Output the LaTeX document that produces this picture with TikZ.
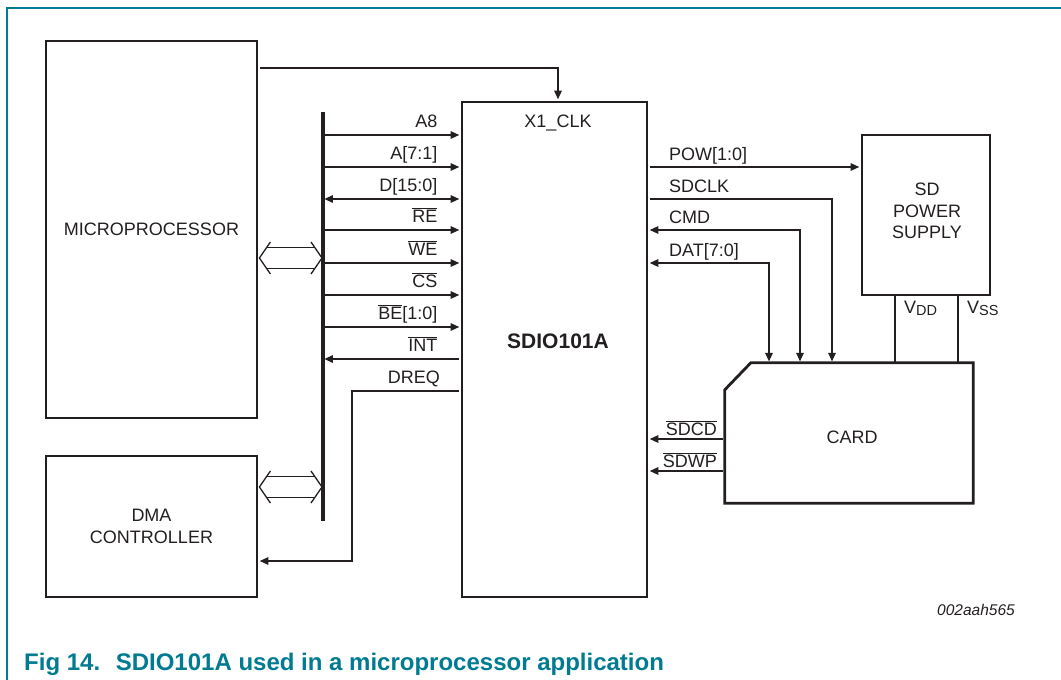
\documentclass[tikz,border=0pt]{standalone}
\usepackage{fontspec}
\setmainfont{Liberation Sans}
\usetikzlibrary{arrows.meta,calc,positioning}
\definecolor{ink}{HTML}{231F20}
\definecolor{figteal}{HTML}{007B91}
\tikzset{
box/.style={draw=ink,line width=2.8pt,inner sep=0pt,align=center,text=ink},
sig/.style={draw=ink,line width=1.3pt,shorten >=1.4pt,shorten <=1.4pt,>={Triangle[length=8.5pt,width=7.5pt]}},
lab/.style={inner sep=0pt,text=ink,align=center}
}
\newcommand{\nbar}[1]{$\overline{\mbox{#1}}$}
\newcommand{\rail}[1]{V\raisebox{-0.3ex}{\fontsize{14.5}{16}\selectfont #1}}

\begin{document}
\begin{tikzpicture}[x=1pt,y=-1pt,font=\fontsize{18}{21.5}\selectfont]
	\useasboundingbox (0,0) rectangle (1061,680);
	% frame
	\draw[figteal,line width=1.5pt] (1061,8) -- (7,8) -- (7,680);

	% blocks
	\node[box,minimum width=211pt,minimum height=377pt] (mpu) at (151.5,229.5) {MICROPROCESSOR};
	\node[box,minimum width=211pt,minimum height=141pt] (dma) at (151.5,526.5) {DMA\\CONTROLLER};
	\node[box,minimum width=185pt,minimum height=495pt] (sdio) at (554.5,349.5) {};
	\node[lab,font=\fontsize{21}{24}\bfseries] (chip) at (558,341) {SDIO101A};
	\node[box,minimum width=128pt,minimum height=160pt] (psu) at (926,215) {};
	\node[lab] at (927,211) {SD\\POWER\\SUPPLY};
	\node[lab,minimum width=248pt,minimum height=140pt] (card) at (849,433) {};
	\node[lab] at (852,437) {CARD};
	\draw[box] (card.south west) -- ($(card.north west)+(0,27)$) -- ($(card.north west)+(26,0)$)
		-- (card.north east) -- (card.south east) -- cycle;

	% bus
	\coordinate (bustop) at (323,112);
	\coordinate (busbot) at (323,521);
	\draw[ink,line width=4pt] (bustop) -- (busbot);
	\foreach \n/\y in {mpu/258,dma/487}{
		\coordinate (l) at ($(\n.east |- 0,\y)+(1,0)$);
		\coordinate (r) at ($(bustop |- 0,\y)+(-1,0)$);
		\draw[ink,line width=1.3pt] ($(l)+(11,-16)$) -- (l) -- ($(l)+(11,16)$);
		\draw[ink,line width=1.3pt] ($(r)+(-11,-16)$) -- (r) -- ($(r)+(-11,16)$);
		\draw[ink,line width=1.3pt] ($(l)+(7.2,-10.5)$) -- ($(r)+(-7.2,-10.5)$);
		\draw[ink,line width=1.3pt] ($(l)+(7.2,10.5)$) -- ($(r)+(-7.2,10.5)$);
	}

	% processor side signals
	\foreach \y/\lab/\tip in {135/{A8}/->,167/{A[7:1]}/->,199/{D[15:0]}/<->,230/{\nbar{RE}}/->,
		263/{\nbar{WE}}/->,295/{\nbar{CS}}/->,327/{\nbar{BE}[1:0]}/->,359/{\nbar{INT}}/<-}{
		\draw[sig,\tip] (bustop |- 0,\y) -- (sdio.west |- 0,\y);
		\node[lab,anchor=base east] at ($(sdio.west |- 0,\y)+(-23,-8)$) {\lab};
	}
	\draw[sig,->] (sdio.west |- 0,391) -- (352,391) |- (dma.east |- 0,561);
	\node[lab,anchor=base east] at (440,383) {DREQ};
	\draw[sig,->] (mpu.east |- 0,68) -| (sdio.north -| 558,0);
	\node[lab,anchor=base] at (558,127) {X1\_CLK};

	% card side signals
	\draw[sig,->] (sdio.east |- 0,167) -- (psu.west |- 0,167);
	\node[lab,anchor=base west] at (669,160) {POW[1:0]};
	\draw[sig,->] (sdio.east |- 0,199) -| (card.north -| 832,0);
	\node[lab,anchor=base west] at (669,192) {SDCLK};
	\draw[sig,<->] (sdio.east |- 0,230) -| (card.north -| 800,0);
	\node[lab,anchor=base west] at (669,223) {CMD};
	\draw[sig,<->] (sdio.east |- 0,263) -| (card.north -| 769,0);
	\node[lab,anchor=base west] at (669,256) {DAT[7:0]};
	\draw[sig,<-] (sdio.east |- 0,439) -- (card.west |- 0,439);
	\node[lab,anchor=base east] at (717,435) {\nbar{SDCD}};
	\draw[sig,<-] (sdio.east |- 0,471) -- (card.west |- 0,471);
	\node[lab,anchor=base east] at (717,467) {\nbar{SDWP}};

	% supply rails
	\draw[sig,shorten >=0pt,shorten <=0pt] (psu.south -| 895,0) -- (card.north -| 895,0);
	\draw[sig,shorten >=0pt,shorten <=0pt] (psu.south -| 958,0) -- (card.north -| 958,0);
	\node[lab,anchor=base west] at (904,313) {\rail{DD}};
	\node[lab,anchor=base west] at (967,313) {\rail{SS}};

	% caption
	\node[lab,anchor=base east,font=\fontsize{15.5}{18}\itshape] at (1015,615) {002aah565};
	\node[inner sep=0pt,anchor=base west,text=figteal,font=\fontsize{24}{28}\bfseries] at (24,670)
		{Fig 14.\hspace{0.65em}SDIO101A used in a microprocessor application};
\end{tikzpicture}
\end{document}
